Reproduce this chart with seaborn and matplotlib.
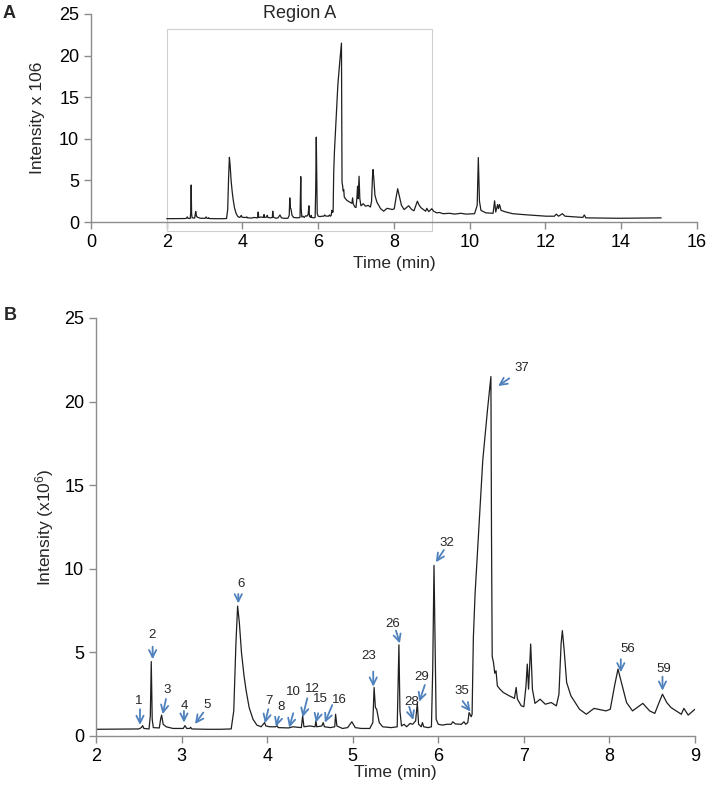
"""Chromatogram: full run (A) and zoom on Region A with numbered peaks (B)."""

import pandas as pd
import seaborn as sns
import matplotlib.pyplot as plt
from matplotlib.patches import Rectangle

# Chromatogram trace (time in min, intensity x 10^6)
time_min = [
    2.00, 2.50, 2.53, 2.545, 2.56, 2.62, 2.635, 2.646, 2.657, 2.67,
    2.74, 2.755, 2.767, 2.785, 2.82, 2.90, 3.02, 3.04, 3.06, 3.095,
    3.106, 3.12, 3.30, 3.45, 3.58, 3.61, 3.635, 3.655, 3.675, 3.70,
    3.73, 3.755, 3.79, 3.835, 3.88, 3.93, 3.955, 3.97, 3.985, 4.03,
    4.10, 4.115, 4.13, 4.25, 4.30, 4.40, 4.415, 4.43, 4.50, 4.56,
    4.57, 4.58, 4.64, 4.655, 4.67, 4.74, 4.79, 4.80, 4.815, 4.88,
    4.94, 4.99, 5.03, 5.10, 5.20, 5.235, 5.25, 5.265, 5.28, 5.31,
    5.35, 5.45, 5.52, 5.532, 5.54, 5.552, 5.57, 5.60, 5.63, 5.67,
    5.70, 5.735, 5.755, 5.77, 5.80, 5.815, 5.83, 5.88, 5.92, 5.935,
    5.95, 5.962, 5.975, 6.00, 6.05, 6.10, 6.15, 6.17, 6.20, 6.27,
    6.30, 6.32, 6.345, 6.36, 6.385, 6.395, 6.41, 6.43, 6.475, 6.52,
    6.575, 6.615, 6.622, 6.63, 6.645, 6.66, 6.675, 6.69, 6.72, 6.76,
    6.83, 6.89, 6.91, 6.925, 6.97, 7.00, 7.025, 7.04, 7.055, 7.08,
    7.10, 7.13, 7.19, 7.25, 7.32, 7.38, 7.41, 7.435, 7.45, 7.47,
    7.50, 7.55, 7.65, 7.73, 7.82, 7.96, 8.01, 8.06, 8.10, 8.14,
    8.20, 8.27, 8.39, 8.47, 8.53, 8.58, 8.62, 8.67, 8.72, 8.78,
    8.84, 8.87, 8.92, 9.00, 9.05, 9.13, 9.20, 9.30, 9.47, 9.60,
    9.77, 9.90, 10.13, 10.20, 10.23, 10.26, 10.30, 10.43, 10.62, 10.66,
    10.69, 10.74, 10.76, 10.79, 10.83, 10.96, 11.14, 11.40, 11.71, 12.02,
    12.24, 12.29, 12.35, 12.45, 12.52, 12.99, 13.03, 13.07, 13.96, 15.06,
]
intensity = [
    0.40, 0.42, 0.50, 0.62, 0.45, 0.42, 1.20, 4.45, 1.00, 0.50,
    0.48, 1.00, 1.25, 0.70, 0.55, 0.45, 0.45, 0.62, 0.45, 0.45,
    0.52, 0.42, 0.40, 0.40, 0.42, 1.50, 5.50, 7.77, 6.80, 5.00,
    3.60, 2.70, 1.70, 1.00, 0.65, 0.55, 0.70, 0.80, 0.60, 0.55,
    0.55, 0.62, 0.50, 0.48, 0.55, 0.50, 1.20, 0.55, 0.60, 0.55,
    0.90, 0.55, 0.60, 0.80, 0.55, 0.50, 0.55, 1.30, 0.60, 0.45,
    0.50, 0.85, 0.50, 0.45, 0.45, 0.80, 2.90, 1.70, 1.60, 0.80,
    0.55, 0.50, 0.55, 3.50, 5.45, 1.50, 0.60, 0.70, 0.55, 0.75,
    0.70, 0.90, 1.95, 0.70, 0.55, 0.80, 0.55, 0.50, 0.55, 4.00,
    10.20, 6.00, 1.00, 0.70, 0.65, 0.70, 0.70, 0.85, 0.72, 0.70,
    0.85, 0.70, 0.80, 1.40, 1.15, 1.30, 5.90, 8.50, 12.50, 16.50,
    19.50, 21.50, 12.00, 4.75, 4.40, 3.75, 3.90, 3.00, 2.80, 2.60,
    2.40, 2.25, 2.90, 2.20, 1.80, 1.75, 3.00, 4.30, 2.80, 5.50,
    2.80, 1.95, 2.20, 1.90, 2.00, 1.80, 2.50, 5.50, 6.30, 5.20,
    3.20, 2.40, 1.60, 1.30, 1.65, 1.50, 1.60, 3.00, 4.00, 3.20,
    2.00, 1.50, 1.95, 1.50, 1.35, 2.00, 2.50, 2.00, 1.70, 1.50,
    1.30, 1.65, 1.25, 1.60, 1.30, 1.10, 1.15, 1.00, 1.05, 0.95,
    1.05, 0.95, 1.00, 2.00, 7.75, 2.50, 1.40, 1.10, 1.05, 2.55,
    1.20, 2.10, 1.60, 2.10, 1.40, 1.20, 1.00, 0.90, 0.80, 0.70,
    0.70, 0.95, 0.70, 1.00, 0.70, 0.55, 0.85, 0.50, 0.45, 0.50,
]

# Peak annotations in panel B (label position, arrow tail, arrow head)
peak_labels = ["1", "2", "3", "4", "5", "6", "7", "8", "10", "12", "15", "16",
               "23", "26", "28", "29", "32", "35", "37", "56", "59"]
label_t = [2.495, 2.650, 2.826, 3.028, 3.293, 3.694, 4.025, 4.157, 4.305, 4.527,
           4.625, 4.843, 5.181, 5.473, 5.695, 5.805, 6.104, 6.272, 6.980, 8.219, 8.636]
label_i = [2.11, 6.04, 2.75, 1.81, 1.85, 9.09, 2.11, 1.75, 2.61, 2.81,
           2.23, 2.15, 4.80, 6.70, 2.05, 3.55, 11.52, 2.71, 22.03, 5.20, 3.99]
tail_t = [2.514, 2.662, 2.818, 3.028, 3.254, 3.663, 4.014, 4.138, 4.305, 4.469,
          4.597, 4.761, 5.240, 5.505, 5.660, 5.843, 6.065, 6.284, 6.829, 8.133, 8.620]
tail_i = [1.60, 5.34, 2.21, 1.50, 1.40, 8.49, 1.60, 1.16, 1.36, 2.25,
          1.36, 1.85, 3.85, 6.30, 1.75, 3.05, 11.12, 2.09, 21.39, 4.59, 3.55]
head_t = [2.514, 2.662, 2.779, 3.028, 3.157, 3.663, 3.974, 4.103, 4.258, 4.414,
          4.570, 4.675, 5.240, 5.551, 5.707, 5.777, 5.972, 6.377, 6.700, 8.133, 8.620]
head_i = [0.66, 4.59, 1.30, 0.80, 0.72, 7.93, 0.76, 0.56, 0.50, 1.12,
          0.80, 0.80, 2.95, 5.54, 0.96, 2.05, 10.39, 1.46, 20.93, 3.81, 2.71]

REGION_A = (2, 9)
TRACE_COLOR = "#1f1f1f"
ARROW_COLOR = "#4f81bd"
SPINE_COLOR = "#8c8c8c"

sns.set_style("ticks")
plt.rcParams["font.family"] = ["Liberation Sans", "DejaVu Sans"]
plt.rcParams["mathtext.fontset"] = "custom"
plt.rcParams["mathtext.rm"] = "Liberation Sans"
plt.rcParams["mathtext.default"] = "regular"

df = pd.DataFrame({"time": time_min, "intensity": intensity})

fig = plt.figure(figsize=(7.11, 7.89), dpi=100)
ax_a = fig.add_axes([0.128, 0.7186, 0.852, 0.2637])
ax_b = fig.add_axes([0.135, 0.0672, 0.8425, 0.5298])


def style_axis(ax):
    sns.despine(ax=ax)
    for side in ["left", "bottom"]:
        ax.spines[side].set_color(SPINE_COLOR)
        ax.spines[side].set_linewidth(1.0)
    ax.tick_params(axis="both", direction="out", length=5, width=1.0,
                   color=SPINE_COLOR, labelcolor="black", labelsize=13)


# --- Panel A: full chromatogram
sns.lineplot(data=df, x="time", y="intensity", ax=ax_a, color=TRACE_COLOR,
             linewidth=0.9, estimator=None, sort=False)
ax_a.set_xlim(0, 16)
ax_a.set_ylim(0, 25)
ax_a.set_xticks(range(0, 17, 2))
ax_a.set_yticks(range(0, 26, 5))
ax_a.set_xlabel("Time (min)", fontsize=12.5, labelpad=4)
ax_a.set_ylabel("Intensity x 106", fontsize=12.5, labelpad=10)
style_axis(ax_a)
ax_a.add_patch(Rectangle((REGION_A[0], -1.08), REGION_A[1] - REGION_A[0], 24.25,
                         fill=False, edgecolor="#cfcfcf", linewidth=0.8,
                         clip_on=False))
ax_a.text(sum(REGION_A) / 2, 25, "Region A", ha="center", va="center",
          fontsize=13)
fig.text(0.0134, 0.983, "A", fontsize=13, fontweight="bold", ha="center", va="center")

# --- Panel B: zoom on Region A
sns.lineplot(data=df, x="time", y="intensity", ax=ax_b, color=TRACE_COLOR,
             linewidth=0.9, estimator=None, sort=False)
ax_b.set_xlim(*REGION_A)
ax_b.set_ylim(0, 25)
ax_b.set_xticks(range(2, 10))
ax_b.set_yticks(range(0, 26, 5))
ax_b.set_xlabel("Time (min)", fontsize=12.5, labelpad=0)
ax_b.set_ylabel("Intensity (x10$^6$)", fontsize=12.5, labelpad=6)
style_axis(ax_b)
fig.text(0.0148, 0.6, "B", fontsize=13, fontweight="bold", ha="center", va="center")

for lab, lt, li, tt, ti, ht, hi in zip(peak_labels, label_t, label_i,
                                       tail_t, tail_i, head_t, head_i):
    ax_b.annotate("", xy=(ht, hi), xytext=(tt, ti),
                  arrowprops=dict(arrowstyle="->", color=ARROW_COLOR, lw=1.3,
                                  mutation_scale=13, shrinkA=0, shrinkB=0))
    ax_b.text(lt, li, lab, ha="center", va="center", fontsize=9.5)

fig.savefig("out.png", dpi=100)
